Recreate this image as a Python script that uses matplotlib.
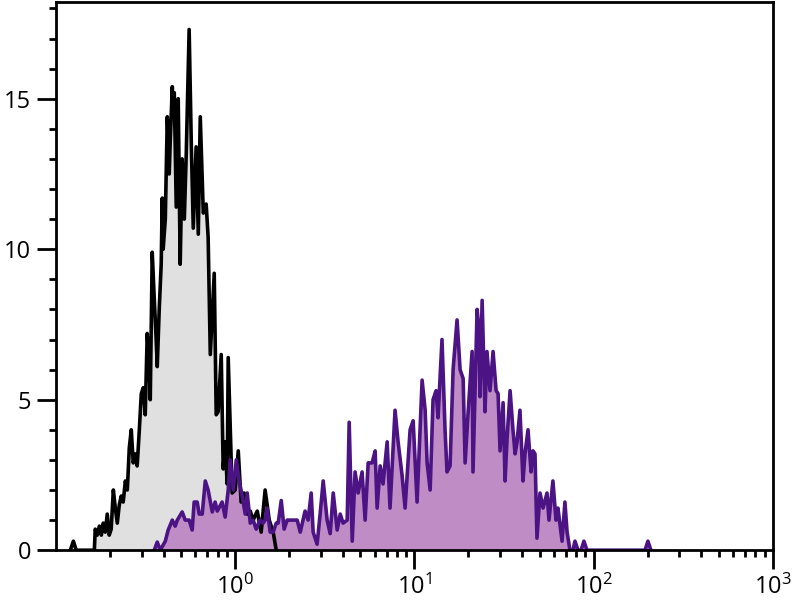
# -*- coding: utf-8 -*-
import numpy as np
import matplotlib
matplotlib.use('Agg')
import matplotlib.pyplot as plt
from matplotlib.ticker import MultipleLocator, LogLocator, NullFormatter

plt.rcParams['font.family'] = ['Open Sans', 'DejaVu Sans']

# %% control histogram (gray) - log10 intensity, count
ctrl_logx = [-0.920, -0.903, -0.887, -0.786, -0.781, -0.770, -0.758, -0.747,
             -0.736, -0.725, -0.714, -0.703, -0.692, -0.680, -0.669, -0.658,
             -0.647, -0.636, -0.625, -0.613, -0.602, -0.591, -0.580, -0.569,
             -0.558, -0.547, -0.535, -0.524, -0.513, -0.502, -0.491, -0.480,
             -0.474, -0.463, -0.452, -0.441, -0.435, -0.424, -0.413, -0.407,
             -0.402, -0.390, -0.379, -0.368, -0.363, -0.351, -0.346, -0.340,
             -0.329, -0.318, -0.307, -0.296, -0.284, -0.273, -0.257, -0.245,
             -0.234, -0.218, -0.206, -0.195, -0.178, -0.162, -0.151, -0.139,
             -0.117, -0.106, -0.095, -0.078, -0.067, -0.056, -0.045, -0.039,
             -0.017, 0.000, 0.017, 0.033, 0.050, 0.067, 0.084, 0.100,
             0.123, 0.145, 0.167, 0.190, 0.212, 0.229]
ctrl_count = [0, 0.3, 0, 0, 0.7, 0.5, 0.8, 0.5,
              0.9, 0.6, 1.2, 0.5, 0.7, 2.0, 1.4, 0.9,
              1.5, 1.8, 1.6, 2.3, 2.0, 3.4, 4.0, 2.9,
              3.2, 2.8, 4.0, 5.2, 5.4, 4.5, 7.2, 6.2,
              5.0, 9.9, 8.4, 7.0, 6.1, 8.0, 9.5, 11.7,
              10.0, 11.0, 14.4, 12.5, 13.5, 15.4, 14.6, 15.2,
              11.4, 15.0, 9.5, 13.0, 11.0, 13.2, 17.3, 13.5,
              10.7, 13.4, 10.5, 14.4, 11.2, 11.5, 10.4, 6.5,
              9.2, 4.5, 4.6, 6.5, 2.7, 3.6, 2.2, 6.4,
              1.9, 2.0, 3.3, 1.6, 1.9, 1.2, 1.3, 1.0,
              1.3, 0.6, 2.0, 1.0, 0.6, 0]

# %% stained histogram (purple)
stain_logx = [-0.452, -0.435, -0.418, -0.390, -0.374, -0.351, -0.335, -0.323,
              -0.296, -0.279, -0.257, -0.240, -0.229, -0.212, -0.201, -0.184,
              -0.167, -0.151, -0.128, -0.112, -0.100, -0.073, -0.056, -0.039,
              -0.028, -0.011, 0.006, 0.022, 0.039, 0.056, 0.067, 0.084,
              0.100, 0.117, 0.139, 0.156, 0.167, 0.178, 0.195, 0.212,
              0.229, 0.240, 0.257, 0.273, 0.290, 0.307, 0.323, 0.346,
              0.363, 0.390, 0.407, 0.424, 0.435, 0.457, 0.474, 0.491,
              0.513, 0.530, 0.547, 0.569, 0.586, 0.602, 0.625, 0.636,
              0.653, 0.669, 0.686, 0.708, 0.725, 0.742, 0.764, 0.781,
              0.792, 0.809, 0.825, 0.848, 0.864, 0.892, 0.909, 0.931,
              0.948, 0.976, 0.993, 1.015, 1.043, 1.060, 1.071, 1.088,
              1.104, 1.121, 1.132, 1.154, 1.171, 1.182, 1.199, 1.216,
              1.238, 1.255, 1.272, 1.283, 1.299, 1.322, 1.327, 1.350,
              1.361, 1.366, 1.378, 1.394, 1.405, 1.422, 1.439, 1.456,
              1.467, 1.478, 1.495, 1.506, 1.517, 1.534, 1.550, 1.562,
              1.573, 1.589, 1.606, 1.617, 1.634, 1.651, 1.662, 1.673,
              1.684, 1.701, 1.718, 1.740, 1.751, 1.773, 1.790, 1.801,
              1.824, 1.840, 1.852, 1.868, 1.885, 1.896, 1.913, 1.930,
              1.946, 1.963, 2.287, 2.303, 2.320]
stain_count = [0, 0.27, 0, 0.3, 0.67, 1.0, 0.8, 1.0,
               1.27, 1.0, 1.0, 0.67, 1.6, 1.6, 1.2, 1.2,
               2.3, 2.0, 1.27, 1.6, 1.3, 1.6, 1.1, 2.0,
               3.0, 2.0, 3.0, 2.3, 1.8, 1.2, 1.9, 0.9,
               1.0, 0.7, 1.0, 0.9, 1.0, 1.4, 0.6, 0.6,
               0.9, 0.9, 1.65, 0.7, 1.0, 1.0, 1.0, 1.0,
               0.6, 1.3, 1.0, 1.9, 0.6, 0.2, 1.2, 2.3,
               1.0, 0.55, 1.9, 0.67, 1.2, 0.9, 1.0, 4.25,
               0.3, 2.6, 1.9, 2.6, 1.0, 2.9, 2.9, 3.3,
               1.4, 2.8, 2.2, 3.6, 1.4, 4.65, 3.6, 2.5,
               1.4, 4.0, 4.3, 1.6, 5.65, 4.65, 2.9, 2.0,
               5.0, 5.3, 4.4, 7.0, 4.0, 2.6, 2.8, 6.0,
               7.65, 6.0, 5.7, 2.9, 4.5, 6.6, 2.6, 8.0,
               7.3, 5.1, 8.3, 4.6, 6.6, 5.3, 6.6, 5.3,
               5.2, 3.3, 4.9, 2.3, 3.7, 5.3, 4.0, 3.2,
               3.6, 4.65, 2.3, 3.2, 4.0, 2.6, 3.3, 3.2,
               0.4, 1.9, 1.4, 1.9, 1.0, 2.3, 1.0, 1.4,
               0.3, 1.6, 0.6, 0, 0, 0.3, 0, 0,
               0.3, 0, 0, 0.3, 0]

x_major = [1, 10, 100, 1000]
y_major = [0, 5, 10, 15]

# %%
def draw_hist(ax, logx, count, fill, edge):
    x = 10 ** np.asarray(logx)
    y = np.asarray(count)
    ax.fill_between(x, y, 0, color=fill, linewidth=0)
    ax.plot(x, y, color=edge, linewidth=2.6, solid_joinstyle='round')


fig = plt.figure(figsize=(8, 6), dpi=100)
ax = fig.add_axes([0.07, 0.083, 0.896, 0.913])

draw_hist(ax, ctrl_logx, ctrl_count, '#e0e0e0', 'black')
draw_hist(ax, stain_logx, stain_count, '#c08cc6', '#4b1384')

ax.set_xscale('log')
ax.set_xlim(0.1, 1000)
ax.set_ylim(0, 18.2)
ax.set_xticks(x_major)
ax.xaxis.set_minor_locator(LogLocator(base=10, subs=np.arange(2, 10), numticks=20))
ax.xaxis.set_minor_formatter(NullFormatter())
ax.set_yticks(y_major)
ax.yaxis.set_minor_locator(MultipleLocator(1))

for s in ax.spines.values():
    s.set_linewidth(2.0)
ax.tick_params(which='major', direction='out', length=14, width=2.0,
               labelsize=17, pad=4)
ax.tick_params(which='minor', direction='out', length=5, width=2.0)

fig.savefig('out.png', dpi=100)
plt.close(fig)
